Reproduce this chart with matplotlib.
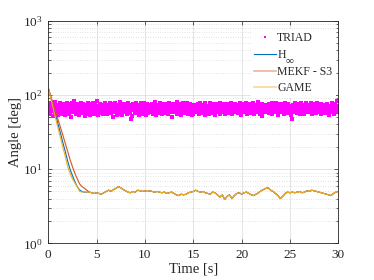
import numpy as np
import matplotlib
matplotlib.use("Agg")
import matplotlib.pyplot as plt
from matplotlib.lines import Line2D
from matplotlib.ticker import LogLocator, MultipleLocator

plt.rcParams['font.family'] = ['Liberation Serif', 'DejaVu Serif']
plt.rcParams['mathtext.fontset'] = 'stix'
plt.rcParams['mathtext.default'] = 'regular'

# TRIAD attitude error [deg], two interleaved sample sets over 0..30 s
triad_a = [
    62, 58, 67, 55, 71, 60, 64, 52, 69, 57, 63, 66, 59, 73, 54, 61, 68, 56, 65, 60,
    70, 57, 62, 53, 66, 64, 59, 75, 61, 56, 68, 63, 51, 67, 60, 72, 58, 65, 55, 62,
    64, 69, 54, 61, 58, 66, 73, 57, 63, 60, 52, 68, 65, 59, 71, 56, 62, 67, 54, 64,
    59, 63, 70, 56, 61, 74, 58, 65, 53, 67, 62, 57, 69, 60, 64, 55, 71, 63, 58, 66,
    61, 55, 68, 64, 59, 72, 57, 62, 66, 50, 63, 69, 58, 65, 61, 54, 70, 60, 67, 56,
    65, 60, 53, 69, 62, 58, 76, 61, 55, 67, 64, 59, 71, 57, 63, 68, 52, 62, 66, 60,
    57, 72, 63, 59, 66, 54, 61, 69, 58, 64, 70, 56, 62, 67, 53, 65, 60, 73, 57, 63,
    68, 58, 61, 65, 56, 71, 63, 60, 54, 66, 62, 69, 57, 64, 59, 74, 55, 61, 67, 62,
    60, 66, 57, 70, 63, 55, 62, 68, 59, 65, 51, 61, 72, 58, 64, 60, 67, 56, 69, 63,
    63, 59, 67, 54, 61, 73, 58, 64, 66, 57, 62, 70, 55, 60, 68, 63, 58, 65, 53, 71,
    56, 64, 62, 69, 58, 61, 67, 55, 72, 60, 63, 57, 66, 59, 64, 70, 54, 62, 68, 60,
    67, 61, 55, 63, 70, 57, 65, 59, 62, 68, 53, 64, 71, 58, 61, 66, 60, 56, 73, 62,
    58, 70, 64, 60, 56, 67, 62, 74, 57, 63, 59, 66, 61, 55, 69, 63, 58, 65, 60, 71,
    64, 57, 61, 68, 63, 59, 54, 66, 71, 60, 65, 58, 62, 69, 56, 64, 61, 75, 57, 63,
    61, 66, 59, 55, 69, 62, 64, 58, 67, 60, 72, 56, 63, 59, 65, 52, 68, 61, 66, 58,
    70, 60, 63, 67, 57, 64, 61, 69, 55, 62, 66, 59, 73, 58, 64, 60, 67, 54, 62, 65,
    59, 65, 72, 58, 62, 56, 68, 61, 64, 70, 57, 63, 60, 66, 53, 69, 62, 58, 65, 61,
    66, 62, 57, 64, 71, 59, 63, 55, 67, 61, 68, 60, 56, 64, 62, 72, 58, 65, 59, 63,
    60, 68, 61, 56, 65, 63, 70, 58, 62, 57, 66, 64, 59, 71, 61, 55, 67, 63, 60, 69,
    63, 57, 66, 62, 59, 67, 54, 64, 69, 60, 58, 65, 62, 56, 70, 61, 64, 59, 66, 62,
]
triad_b = [
    72, 66, 78, 63, 69, 75, 60, 71, 67, 80, 64, 70, 58, 74, 68, 62, 77, 65, 73, 69,
    61, 76, 68, 72, 65, 79, 63, 70, 74, 59, 67, 71, 77, 64, 69, 82, 66, 73, 60, 75,
    70, 64, 73, 67, 78, 62, 69, 75, 66, 71, 57, 74, 68, 63, 79, 70, 65, 72, 67, 76,
    65, 77, 61, 70, 74, 68, 83, 64, 72, 66, 69, 76, 62, 71, 67, 73, 59, 78, 65, 70,
    74, 68, 71, 63, 79, 66, 72, 60, 75, 69, 64, 77, 70, 66, 73, 61, 68, 74, 80, 64,
    67, 72, 59, 76, 70, 65, 73, 68, 62, 78, 71, 66, 74, 69, 47, 72, 76, 63, 70, 67,
    78, 63, 70, 74, 66, 71, 61, 77, 68, 73, 65, 70, 79, 64, 72, 67, 75, 60, 69, 73,
    64, 71, 76, 62, 69, 73, 67, 80, 65, 70, 74, 58, 71, 66, 77, 63, 69, 72, 65, 75,
    71, 66, 63, 75, 72, 60, 78, 69, 64, 73, 67, 76, 62, 70, 68, 74, 66, 81, 71, 63,
    69, 75, 67, 71, 58, 77, 65, 72, 70, 63, 79, 68, 73, 66, 61, 75, 70, 64, 72, 68,
    73, 62, 74, 68, 66, 71, 76, 63, 69, 78, 64, 72, 67, 70, 74, 59, 77, 65, 71, 69,
    66, 70, 79, 64, 73, 68, 62, 75, 71, 67, 72, 60, 76, 69, 65, 73, 78, 63, 70, 74,
    75, 67, 65, 72, 61, 76, 70, 68, 74, 63, 69, 77, 66, 72, 58, 71, 67, 75, 64, 70,
    62, 73, 70, 66, 78, 64, 71, 73, 59, 75, 68, 65, 79, 67, 72, 70, 63, 76, 69, 66,
    70, 65, 77, 71, 63, 69, 74, 66, 72, 80, 61, 73, 68, 64, 76, 71, 66, 70, 74, 62,
    68, 74, 63, 69, 75, 67, 60, 78, 65, 71, 73, 69, 64, 77, 62, 70, 75, 68, 66, 72,
    76, 61, 72, 67, 70, 64, 79, 68, 73, 62, 75, 70, 66, 72, 69, 48, 74, 71, 63, 78,
    63, 70, 68, 75, 65, 72, 69, 61, 77, 70, 66, 74, 71, 64, 78, 67, 73, 60, 72, 68,
    72, 77, 64, 70, 68, 62, 75, 71, 66, 79, 69, 63, 73, 67, 71, 76, 65, 70, 74, 61,
    67, 69, 73, 60, 76, 71, 66, 72, 64, 70, 78, 68, 62, 75, 69, 73, 67, 84, 65, 71,
]
triad = np.ravel(np.column_stack([triad_a, triad_b]))
triad_t = np.linspace(0, 30, len(triad))

# filter errors, every 0.25 s from 0 to 30 s
t = np.arange(0, 30.01, 0.25)
steady = [
    4.9, 4.8, 4.7, 4.8, 4.7, 4.6, 4.8, 5.0, 5.2, 5.0, 5.3, 5.5, 5.8, 5.6, 5.3, 5.1,
    4.9, 4.8, 5.0, 4.9, 5.2, 5.1, 5.0, 5.1, 5.0, 5.1, 5.0, 4.9, 5.0, 4.9, 4.8, 4.9,
    4.7, 4.8, 4.9, 4.7, 4.5, 4.4, 4.6, 4.5, 4.6, 4.8, 4.9, 5.0, 5.2, 5.0, 4.9, 5.0,
    4.8, 4.7, 4.6, 4.9, 4.8, 4.5, 4.2, 4.5, 3.9, 4.3, 4.5, 4.0, 4.4, 4.7, 4.8, 4.6,
    4.8, 4.9, 4.7, 4.5, 4.4, 4.6, 4.8, 5.1, 5.3, 5.5, 5.6, 5.2, 5.0, 4.7, 4.4, 4.0,
    4.3, 4.7, 4.9, 4.8, 4.9, 4.8, 4.9, 5.0, 4.8, 4.9, 5.1, 5.0, 5.2, 5.1, 5.0, 4.9,
    4.8, 4.7, 4.6, 4.5, 4.4, 4.7, 4.9, 5.0,
]
hinf_start = [125, 94, 71, 54, 41, 31, 23, 17.5, 13, 10, 8.2, 6.8, 5.8, 5.2, 5.0, 4.9, 4.9]
mekf_start = [125, 98, 77, 60, 47, 37, 29, 22.5, 17.5, 13.5, 10.8, 8.8, 7.4, 6.3, 5.8, 5.5, 5.2]
game_start = [125, 91, 67, 49, 36, 27, 20, 15, 11, 8.8, 7.4, 6.5, 5.8, 5.0, 4.9, 5.0, 4.9]
hinf = hinf_start + steady
mekf = mekf_start + steady
game = game_start + steady

c_triad = '#FF00FF'
c_hinf = '#0072BD'
c_mekf = '#D95319'
c_game = '#EDB120'
c_text = '#262626'

fig = plt.figure(figsize=(3.74, 2.8), dpi=100)
ax = fig.add_axes([0.129, 0.131, 0.7756, 0.795])

ax.plot(triad_t, triad, 's', color=c_triad, markersize=2.3, markeredgewidth=0)
ax.plot(t, hinf, color=c_hinf, lw=0.8)
ax.plot(t, mekf, color=c_mekf, lw=0.8)
ax.plot(t, game, color=c_game, lw=0.8)

ax.set_yscale('log')
ax.set_xlim(0, 30)
ax.set_ylim(1, 1000)
ax.xaxis.set_major_locator(MultipleLocator(5))
ax.yaxis.set_major_locator(LogLocator(base=10, numticks=10))
ax.yaxis.set_minor_locator(LogLocator(base=10, subs=np.arange(2, 10), numticks=10))
ax.yaxis.set_minor_formatter(plt.NullFormatter())

ax.grid(True, which='major', color='#DFDFDF', lw=0.6)
ax.grid(True, which='minor', axis='y', color='#C8C8C8', lw=0.5, linestyle=(0, (1, 2.5)))
ax.set_axisbelow(True)
ax.tick_params(which='both', direction='in', top=True, right=True, labelsize=9.5,
               color=c_text, width=0.5, labelcolor=c_text)
ax.tick_params(which='major', length=3, pad=4)
ax.tick_params(which='minor', length=1.8)
for s in ax.spines.values():
    s.set_color(c_text)
    s.set_linewidth(0.6)

ax.set_xlabel('Time [s]', fontsize=10.5, labelpad=1, color=c_text)
ax.set_ylabel('Angle [deg]', fontsize=10.5, labelpad=1, color=c_text)

handles = [
    Line2D([], [], ls='none', marker='s', markersize=1.7, markeredgewidth=0, color=c_triad),
    Line2D([], [], color=c_hinf, lw=0.8),
    Line2D([], [], color='#EFB49A', lw=1.2),
    Line2D([], [], color='#F6D89A', lw=1.2),
]
leg = ax.legend(handles, ['TRIAD', 'H', 'MEKF - S3', 'GAME'],
                loc='upper right', bbox_to_anchor=(1.0, 0.975), fontsize=8.5,
                frameon=True, fancybox=False, framealpha=1, edgecolor='none',
                handlelength=1.8, handletextpad=0.15, labelspacing=0.4,
                borderpad=0.3, borderaxespad=0.2)
for txt in leg.get_texts():
    txt.set_color(c_text)

# subscript infinity under the H entry, as in the original legend
fig.canvas.draw()
hb = leg.get_texts()[1].get_window_extent()
fig.text(hb.x1 / fig.dpi / 3.74, (hb.y0 - 2.5) / fig.dpi / 2.8, '\u221e',
         fontsize=8, color=c_text, ha='left', va='baseline', zorder=10)

fig.savefig('out.png', dpi=100)
